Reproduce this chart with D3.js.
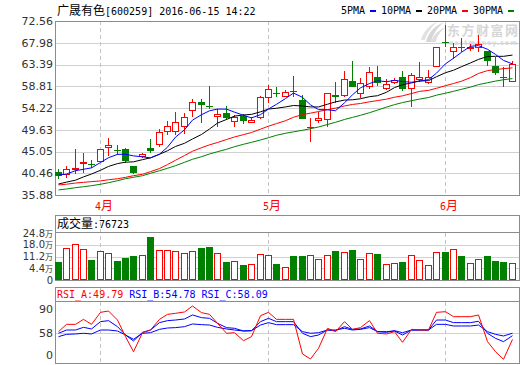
<!DOCTYPE html>
<html><head><meta charset="utf-8">
<script src="https://cdn.jsdelivr.net/npm/d3@7"></script>
<style>
html,body{margin:0;padding:0;background:#fff;}
svg{display:block;}
text{white-space:pre;}
</style></head><body>
<svg id="c" width="520" height="365"></svg>
<script>
// ---------------- data ----------------
const title = "广晟有色[600259] 2016-06-15 14:22";
const dates = ["03-25","03-28","03-29","03-30","03-31",
 "04-01","04-05","04-06","04-07","04-08","04-11","04-12","04-13","04-14","04-15","04-18","04-19","04-20","04-21","04-22","04-25","04-26","04-27","04-28","04-29",
 "05-03","05-04","05-05","05-06","05-09","05-10","05-11","05-12","05-13","05-16","05-17","05-18","05-19","05-20","05-23","05-24","05-25","05-26","05-27","05-30","05-31",
 "06-01","06-02","06-03","06-06","06-07","06-08","06-13","06-14","06-15"];
const open  = [40.67,40.10,41.15,42.42,42.48,42.90,45.73,45.37,45.64,41.99,43.95,45.73,46.42,49.10,49.10,50.28,53.65,55.49,54.64,52.39,53.10,51.33,52.60,51.12,52.05,56.27,57.38,56.60,57.74,55.91,49.94,51.42,51.69,56.90,56.75,59.97,57.17,58.58,60.69,58.16,59.43,60.82,58.16,60.13,59.55,62.93,68.20,66.09,67.14,66.59,66.81,66.30,63.07,60.82,59.64];
const high  = [41.36,41.99,45.64,44.80,43.26,45.58,47.96,46.42,45.79,41.99,44.67,47.69,49.79,51.48,53.48,53.11,56.05,56.05,58.86,53.95,54.64,52.75,52.96,52.39,56.75,59.07,58.71,58.01,60.97,56.96,52.05,53.44,57.45,59.76,62.08,64.19,60.48,62.93,63.07,60.27,60.48,62.08,61.54,63.98,62.23,67.02,71.72,67.86,68.91,67.71,69.61,66.30,65.03,62.93,64.19];
const low   = [39.26,39.40,40.31,40.58,41.57,42.84,44.10,44.31,42.69,40.31,43.74,44.67,45.99,48.53,48.53,48.68,52.39,51.12,53.95,50.28,51.69,50.28,50.79,50.99,51.96,55.21,56.60,56.48,56.54,51.90,47.12,51.12,50.28,55.21,56.48,58.71,56.27,58.16,58.86,58.01,59.28,57.87,54.48,59.76,59.28,62.93,67.14,64.49,66.09,66.30,66.09,63.07,61.18,58.71,59.64];
const close = [39.89,41.30,41.64,42.90,42.27,45.52,46.36,45.22,42.98,40.58,44.52,45.22,49.10,50.36,51.21,52.26,55.42,54.79,54.48,53.02,52.18,52.26,51.48,51.69,56.48,58.16,57.17,57.53,57.53,51.96,50.28,52.11,57.32,56.60,60.27,58.71,59.43,61.87,59.55,59.22,60.13,58.16,61.18,60.69,60.82,67.02,67.99,67.02,67.02,67.14,67.65,64.19,61.66,60.61,63.50];
const ma5  = [40.10,40.31,41.00,41.30,41.60,42.73,43.74,44.45,44.47,44.13,43.93,43.70,44.48,45.96,48.08,49.63,51.67,52.81,53.63,53.99,53.98,53.35,52.68,52.13,52.82,54.01,55.00,56.21,57.37,56.47,54.89,53.88,53.84,53.65,55.32,57.00,58.47,59.38,59.97,59.76,60.04,59.79,59.65,59.88,60.20,61.57,63.54,64.71,65.97,67.24,67.36,66.60,65.53,64.25,63.52];
const ma10 = [38.2,38.6,39.0,39.7,40.3,41.1,41.9,42.5,42.8,42.87,43.33,43.72,44.47,45.21,46.11,46.78,47.69,48.64,49.79,51.04,51.80,52.51,52.75,52.88,53.41,54.00,54.17,54.45,54.75,54.64,54.45,54.44,55.02,55.51,55.89,55.95,56.17,56.61,56.81,57.54,58.52,59.13,59.51,59.92,59.98,60.81,61.66,62.18,62.93,63.72,64.47,65.07,65.12,65.11,65.38];
const ma20 = [38.0,38.15,38.4,38.55,38.7,38.85,39.1,39.3,39.6,39.95,40.25,40.8,41.45,42.3,43.2,44.2,45.1,45.85,46.45,46.95,47.57,48.11,48.61,49.05,49.76,50.39,50.93,51.54,52.27,52.84,53.13,53.47,53.88,54.20,54.65,54.97,55.17,55.53,55.78,56.09,56.49,56.78,57.27,57.72,57.93,58.38,58.92,59.39,59.87,60.63,61.50,62.10,62.32,62.52,62.68];
const ma30 = [36.94,37.15,37.42,37.63,37.84,38.14,38.47,38.89,39.32,39.61,39.95,40.45,41.00,41.51,42.06,42.77,43.41,43.95,44.52,45.01,45.51,46.06,46.57,46.99,47.48,47.96,48.47,48.89,49.20,49.52,49.86,50.22,50.75,51.20,51.80,52.24,52.68,53.23,53.78,54.41,54.93,55.36,55.76,56.10,56.43,56.92,57.34,57.74,58.16,58.63,59.15,59.55,59.89,60.18,60.42];
// volume in 万 (10k lots)
const volume = [8.26,16.24,18.57,15.65,9.25,14.49,13.32,8.67,10.41,11.58,12.16,22.82,14.90,14.90,14.31,13.32,14.31,16.24,16.82,13.32,8.08,8.67,6.34,6.92,12.74,12.16,6.92,5.00,11.58,11.58,12.16,9.66,12.16,14.49,13.91,15.07,9.66,13.32,12.74,6.92,7.50,8.08,12.16,9.25,6.34,13.91,13.91,15.65,11.58,7.50,9.66,11.58,8.67,8.08,7.67];
const lastVolume = "76723";
const rsiA = [60.2,70.0,70.0,76.7,70.0,86.1,87.9,75.8,53.5,33.3,58.8,62.4,76.7,83.4,84.8,86.6,94.6,85.7,83.4,71.4,58.0,58.8,48.1,53.5,81.7,86.1,76.7,76.7,76.7,30.2,23.5,37.8,64.7,60.2,73.6,63.3,65.6,75.0,58.0,57.1,60.2,45.9,63.3,62.4,62.4,86.1,87.0,80.3,80.3,80.3,82.6,46.8,33.3,23.1,49.79];
const rsiB = [58.0,62.4,62.4,66.0,63.8,73.6,75.0,66.9,55.7,47.7,59.3,62.4,72.3,75.0,75.8,77.2,82.6,79.0,78.1,71.4,65.6,64.7,61.1,61.5,73.6,78.1,73.6,73.6,73.6,58.0,53.5,55.7,62.4,61.5,66.9,63.3,63.8,67.8,60.2,60.2,61.1,55.7,62.4,62.4,62.4,75.8,75.8,72.3,72.3,72.3,74.1,58.0,51.2,46.8,54.78];
const rsiC = [53.5,56.6,57.1,58.0,57.1,62.4,62.4,61.1,55.7,49.9,58.0,58.8,63.3,65.1,65.6,66.9,70.5,69.6,69.1,66.0,63.8,62.4,61.1,61.5,69.1,72.3,69.6,69.6,69.6,60.2,58.0,58.8,62.4,62.4,64.7,62.4,63.3,65.6,60.2,59.3,61.5,58.8,62.4,62.4,62.4,70.0,70.0,67.8,67.8,67.8,69.1,60.2,56.6,54.4,58.09];
const priceTicks = ["35.88","40.46","45.05","49.63","54.22","58.81","63.39","67.98","72.56"];
const volTicks = ["4.4","11.2","18.0","24.8"];
const rsiTicks = ["90","58"];
const maNames = ["5PMA","10PMA","20PMA","30PMA"];
const monthNames = {"04":"4月","05":"5月","06":"6月"};

// ---------------- drawing ----------------
const RED="#ff0000", GREEN="#008000", BLUE="#0000ff", BLACK="#000000";
const BORDER="#8c8c8c", GRID="#d0d0d0", DASH="#c4c4c4";
const svg = d3.select('#c');
const L=55, R=519;
const P = {top:21, bot:195};
const V = {head:215, top:232.5, bot:280};
const Q = {head:287.5, top:301.5, bot:363.5};

const n = dates.length;
const x = d3.scaleBand().domain(d3.range(n)).range([54,516.5]).padding(0);
const cx = i => Math.floor(x(i)+x.bandwidth()/2);
const yP = d3.scaleLinear().domain([+priceTicks[0], +priceTicks[priceTicks.length-1]]).range([P.bot,P.top]);
const yV = d3.scaleLinear().domain([-2.4, 24.8]).range([V.bot, 233.3]);
const yR = d3.scaleLinear().domain([0,100]).range([376.5, 302]);
const px = v => Math.round(v)+0.5;

function mixText(g, str, xx, yy, o){
  o = o||{};
  const t = g.append('text').attr('x',xx).attr('y',yy).attr('fill',o.fill||'#000')
    .attr('text-anchor',o.anchor||'start');
  const runs = str.match(/[\u2E80-\u9FFF\uFF00-\uFFEF]+|[^\u2E80-\u9FFF\uFF00-\uFFEF]+/g);
  runs.forEach(r=>{
    const cjk = /[\u2E80-\u9FFF\uFF00-\uFFEF]/.test(r);
    t.append('tspan').text(r)
      .attr('font-family', cjk ? '"Noto Sans CJK SC"' : (o.font||'"DejaVu Sans Mono"'))
      .attr('font-size', cjk ? (o.cjkSize||12) : (o.size||10));
  });
  return t;
}
function hline(g,x1,x2,y,col,dash){
  const l=g.append('line').attr('x1',x1).attr('x2',x2).attr('y1',px(y)).attr('y2',px(y))
   .attr('stroke',col).attr('stroke-width',1).attr('shape-rendering','crispEdges');
  if(dash) l.attr('stroke-dasharray',dash);
  return l;
}
function vline(g,xx,y1,y2,col,dash){
  const l=g.append('line').attr('x1',xx+0.5).attr('x2',xx+0.5).attr('y1',y1).attr('y2',y2)
   .attr('stroke',col).attr('stroke-width',1).attr('shape-rendering','crispEdges');
  if(dash) l.attr('stroke-dasharray',dash);
  return l;
}

// month starts
const monthIdx = [];
dates.forEach((d,i)=>{ if(i>0 && d.slice(0,2)!==dates[i-1].slice(0,2)) monthIdx.push(i); });

const gGrid = svg.append('g');
priceTicks.forEach((t,k)=>{ if(k>0 && k<priceTicks.length-1) hline(gGrid,L,R,yP(+t),GRID); });
volTicks.slice(0,-1).forEach(t=>hline(gGrid,L,R,yV(+t),GRID));
hline(gGrid,L,R,yR(58),GRID);
monthIdx.forEach((i,k)=>{
  vline(gGrid,cx(i),P.top,P.bot,DASH,"4,3");
  vline(gGrid,cx(i),k===0?V.head:V.top,V.bot,DASH,"4,3");
  vline(gGrid,cx(i),k===0?Q.head:Q.top,Q.bot,DASH,"4,3");
});

// watermark
const wm = svg.append('g').attr('fill','#d6d6d6');
wm.append('path').attr('d','M426,42 C428,33 434,26 444,22 C437,28 433,34 431,42 Z');
wm.append('path').attr('d','M431,42 C433,35 438,30 446,27 C440,32 437,36 436,42 Z').attr('opacity',0.8);
wm.append('path').attr('d','M421,40 C423,32 429,25 437,22 C431,28 427,33 425,40 Z').attr('opacity',0.7);
wm.append('text').attr('x',447).attr('y',35).attr('font-family','"Noto Sans CJK SC"').attr('font-weight','bold')
  .attr('font-size',13).attr('textLength',71).text('东方财富网');
wm.append('text').attr('x',449).attr('y',45).attr('font-family','"DejaVu Sans"').attr('font-weight','bold')
  .attr('font-size',6.5).attr('textLength',68).text('eastmoney.com');

// borders
const gB = svg.append('g').attr('fill','none').attr('stroke',BORDER).attr('shape-rendering','crispEdges');
gB.append('rect').attr('x',L+0.5).attr('y',P.top+0.5).attr('width',R-L).attr('height',P.bot-P.top);
gB.append('rect').attr('x',L+0.5).attr('y',V.head+0.5).attr('width',R-L).attr('height',V.bot-V.head);
gB.append('line').attr('x1',L).attr('x2',R+1).attr('y1',V.top).attr('y2',V.top);
gB.append('rect').attr('x',L+0.5).attr('y',Q.head).attr('width',R-L).attr('height',Q.bot-Q.head);
gB.append('line').attr('x1',L).attr('x2',R+1).attr('y1',Q.top).attr('y2',Q.top);

// y labels
const gL = svg.append('g');
priceTicks.forEach(t=>{
  gL.append('text').attr('x',53).attr('y',yP(+t)).attr('dy','0.36em').attr('text-anchor','end')
    .attr('font-family','"DejaVu Sans"').attr('font-size',11).attr('fill','#333').text(t);
});
volTicks.forEach(t=>{
  mixText(gL, t+"万", 53, yV(+t)+3.5, {anchor:'end', font:'"DejaVu Sans"', size:10, cjkSize:8, fill:'#333'});
});
gL.append('text').attr('x',53).attr('y',V.bot+3.5).attr('text-anchor','end')
  .attr('font-family','"DejaVu Sans"').attr('font-size',10).attr('fill','#333').text('0');
rsiTicks.forEach(t=>{
  gL.append('text').attr('x',53).attr('y',yR(+t)).attr('dy','0.36em').attr('text-anchor','end')
    .attr('font-family','"DejaVu Sans"').attr('font-size',11).attr('fill','#333').text(t);
});
gL.append('text').attr('x',53).attr('y',Q.bot-8).attr('dy','0.36em').attr('text-anchor','end')
  .attr('font-family','"DejaVu Sans"').attr('font-size',11).attr('fill','#333').text('0');

// month labels
monthIdx.forEach(i=>{
  mixText(svg, monthNames[dates[i].slice(0,2)], cx(i)-5, 210, {fill:RED});
});

// title & legend
mixText(svg, title, 57, 14.5, {});
const maCols=[BLUE,BLACK,RED,GREEN];
let lx = 341;
maNames.forEach((nm,k)=>{
  svg.append('text').attr('x',lx).attr('y',14).attr('font-family','"DejaVu Sans Mono"').attr('font-size',10).text(nm);
  lx += nm.length*6 + 5;
  svg.append('rect').attr('x',lx).attr('y',10).attr('width',6).attr('height',2).attr('fill',maCols[k]);
  lx += 6 + 5;
});

// candles
const gK = svg.append('g').attr('shape-rendering','crispEdges');
dates.forEach((d,i)=>{
  const c=cx(i), up = close[i]>=open[i];
  const yo=Math.round(yP(open[i])), yc=Math.round(yP(close[i]));
  const yh=Math.round(yP(high[i])), yl=Math.round(yP(low[i]));
  const top=Math.min(yo,yc), bot=Math.max(yo,yc);
  const col = up?RED:GREEN;
  if(up){
    if(yh<top) vline(gK,c,yh,top,col);
    if(yl>bot) vline(gK,c,bot,yl,col);
    if(bot-top>=3) gK.append('rect').attr('x',c-2.5).attr('y',top+0.5).attr('width',6).attr('height',bot-top-1)
        .attr('fill','#fff').attr('stroke',col);
    else gK.append('rect').attr('x',c-3).attr('y',top).attr('width',7).attr('height',Math.max(1,bot-top)).attr('fill',col);
  } else {
    vline(gK,c,yh,yl,col);
    gK.append('rect').attr('x',c-3).attr('y',top).attr('width',7).attr('height',Math.max(1,bot-top)).attr('fill',col);
  }
});

// MA lines
const maData=[ma5,ma10,ma20,ma30];
const lineP = d3.line().x((v,i)=>cx(i)+0.5).y(v=>yP(v));
[3,2,1,0].forEach(k=>{
  svg.append('path').attr('d',lineP(maData[k])).attr('fill','none').attr('stroke',maCols[k]).attr('stroke-width',1);
});

// volume
mixText(svg, "成交量:"+lastVolume, 57, 227.5, {});
const gV = svg.append('g').attr('shape-rendering','crispEdges');
volume.forEach((v,i)=>{
  const c=cx(i), up=close[i]>=open[i];
  const t=Math.round(yV(v));
  if(up) gV.append('rect').attr('x',c-2.5).attr('y',t+0.5).attr('width',6).attr('height',V.bot-t-1).attr('fill','#fff').attr('stroke',RED);
  else gV.append('rect').attr('x',c-3).attr('y',t).attr('width',7).attr('height',V.bot-t).attr('fill',GREEN);
});

// RSI
const rsiHead = svg.append('text').attr('x',57).attr('y',298).attr('font-family','"DejaVu Sans Mono"').attr('font-size',10);
rsiHead.append('tspan').attr('fill',RED).text("RSI_A:"+rsiA[n-1].toFixed(2)+" ");
rsiHead.append('tspan').attr('fill',BLUE).text("RSI_B:"+rsiB[n-1].toFixed(2)+" ");
rsiHead.append('tspan').attr('fill',BLUE).text("RSI_C:"+rsiC[n-1].toFixed(2));
const lineR = d3.line().x((v,i)=>cx(i)+0.5).y(v=>yR(v));
[[rsiC,BLUE],[rsiB,BLUE],[rsiA,RED]].forEach(([arr,col])=>{
  svg.append('path').attr('d',lineR(arr)).attr('fill','none').attr('stroke',col).attr('stroke-width',1);
});
</script>
</body></html>
